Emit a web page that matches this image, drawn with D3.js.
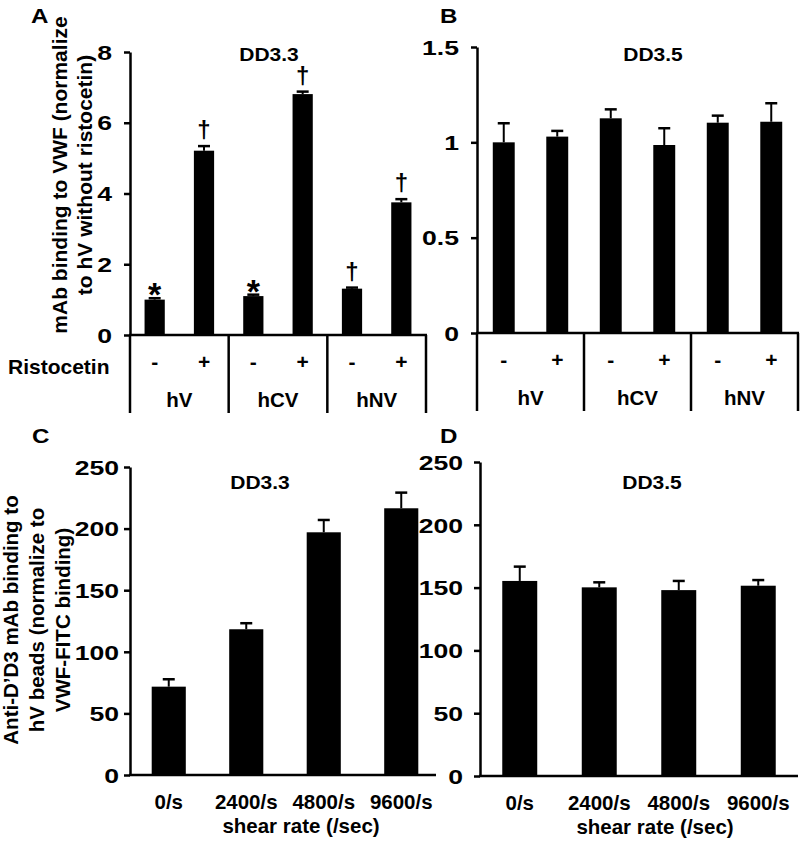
<!DOCTYPE html>
<html>
<head>
<meta charset="utf-8">
<script src="https://cdn.jsdelivr.net/npm/d3@7"></script>
<style>
	body { margin: 0; background: #fff; }
	svg text { font-family: "Liberation Sans", Arial, sans-serif; font-weight: bold; fill: #000; }
</style>
</head>
<body>
<div id="chart"></div>
<script>
// ---- data ----
var vwfGroups = ["hV", "hCV", "hNV"];
var ristocetinSigns = ["-", "+", "-", "+", "-", "+"];

var dd33RistoValues = [1.0, 5.21, 1.10, 6.81, 1.31, 3.75];
var dd33RistoErrors = [0.04, 0.13, 0.04, 0.07, 0.03, 0.09];
var dd33RistoMarks = ["*", "†", "*", "†", "†", "†"];

var dd35RistoValues = [1.0, 1.03, 1.126, 0.986, 1.103, 1.108];
var dd35RistoErrors = [0.10, 0.03, 0.047, 0.088, 0.037, 0.097];

var shearRates = ["0/s", "2400/s", "4800/s", "9600/s"];
var dd33ShearValues = [71.7, 118.3, 197, 216.5];
var dd33ShearErrors = [6, 4.9, 10, 12.7];
var dd35ShearValues = [155.3, 150.2, 148, 151.5];
var dd35ShearErrors = [11.4, 4, 7.3, 4.5];

var ticksA = [0, 2, 4, 6, 8];
var ticksB = [0, 0.5, 1, 1.5];
var ticksShear = [0, 50, 100, 150, 200, 250];

var svg = d3.select("#chart").append("svg")
	.attr("width", 800)
	.attr("height", 844);

function addText(g, x, y, str, size, anchor, sx) {
	return g.append("text")
		.attr("transform", `translate(${x},${y}) scale(${sx || 1},1)`)
		.attr("text-anchor", anchor || "middle")
		.style("font-size", size + "px")
		.text(str);
}

function drawPanel(o) {
	var n = o.values.length;
	var g = svg.append("g");

	var x = d3.scaleBand()
		.domain(d3.range(n))
		.range([o.x0, o.x1])
		.paddingInner(o.pad)
		.paddingOuter(o.pad / 2);

	var y = d3.scaleLinear()
		.domain([0, o.yMax])
		.range([o.y0, o.yTop]);

	// y axis
	var yAxis = d3.axisLeft(y)
		.tickValues(o.ticks)
		.tickSize(6)
		.tickSizeOuter(0)
		.tickFormat(d3.format(""));

	var ya = g.append("g")
		.attr("transform", `translate(${o.x0},0)`)
		.call(yAxis);
	ya.select(".domain").attr("stroke", "#000").attr("stroke-width", 2.5);
	ya.selectAll(".tick line").attr("stroke", "#000").attr("stroke-width", 2.5);
	ya.selectAll(".tick text")
		.attr("x", -o.tickGap / 1.33)
		.attr("dy", "0.36em")
		.attr("transform", "scale(1.33,1)")
		.style("font-size", "20px");

	// x axis baseline
	g.append("line")
		.attr("x1", o.x0 - 1).attr("x2", o.axisEnd)
		.attr("y1", o.y0).attr("y2", o.y0)
		.attr("stroke", "#000").attr("stroke-width", 2.5);

	// bars
	g.selectAll(".bar")
		.data(o.values)
		.enter()
		.append("rect")
		.attr("x", (d, i) => x(i))
		.attr("width", x.bandwidth())
		.attr("y", d => y(d))
		.attr("height", d => o.y0 - y(d))
		.attr("fill", "#000");

	// error bars (upper only)
	var capW = o.capW;
	o.values.forEach((v, i) => {
		var cx = x(i) + x.bandwidth() / 2;
		var top = y(v + o.errors[i]);
		g.append("line")
			.attr("x1", cx).attr("x2", cx)
			.attr("y1", y(v)).attr("y2", top)
			.attr("stroke", "#000").attr("stroke-width", 2);
		g.append("line")
			.attr("x1", cx - capW / 2).attr("x2", cx + capW / 2)
			.attr("y1", top).attr("y2", top)
			.attr("stroke", "#000").attr("stroke-width", 2.5);
		if (o.marks) {
			var m = o.marks[i];
			if (m === "*") {
				addText(g, cx, top + 8, m, 34, "middle");
			} else {
				addText(g, cx, top - 8, m, 24, "middle");
			}
		}
	});

	// title and panel letter
	addText(g, o.titleX, o.titleY, o.title, 17.5, "middle", 1.2);
	addText(g, o.letterX, o.letterY, o.letter, 21, "start", 1.15);

	// categorical x labels
	if (o.groups) {
		var xg = d3.scaleBand().domain(o.groups).range([o.x0, o.x1]);
		o.groups.forEach(gr => {
			g.append("line")
				.attr("x1", xg(gr)).attr("x2", xg(gr))
				.attr("y1", o.y0).attr("y2", o.y0 + 78)
				.attr("stroke", "#000").attr("stroke-width", 2.5);
			addText(g, xg(gr) + xg.bandwidth() / 2, o.y0 + 72, gr, 20.5, "middle");
		});
		g.append("line")
			.attr("x1", o.x1).attr("x2", o.x1)
			.attr("y1", o.y0).attr("y2", o.y0 + 78)
			.attr("stroke", "#000").attr("stroke-width", 2.5);
		o.signs.forEach((s, i) => {
			addText(g, x(i) + x.bandwidth() / 2, o.y0 + 34, s, 21, "middle");
		});
	}

	if (o.shear) {
		o.shear.forEach((s, i) => {
			addText(g, x(i) + x.bandwidth() / 2, o.y0 + 34, s, 20.5, "middle");
		});
		addText(g, (o.x0 + o.x1) / 2 + 16, o.y0 + 58, "shear rate (/sec)", 20.5, "middle");
	}

	return g;
}

// ---- A ----
drawPanel({
	values: dd33RistoValues, errors: dd33RistoErrors, marks: dd33RistoMarks,
	x0: 130, x1: 426, axisEnd: 427, y0: 335, yTop: 52, yMax: 8, ticks: ticksA, tickGap: 18,
	pad: 0.59, capW: 12, title: "DD3.3", titleX: 269, titleY: 61,
	letter: "A", letterX: 31, letterY: 23, groups: vwfGroups, signs: ristocetinSigns
});

// ---- B ----
drawPanel({
	values: dd35RistoValues, errors: dd35RistoErrors,
	x0: 477, x1: 798, axisEnd: 799, y0: 333, yTop: 47, yMax: 1.5, ticks: ticksB, tickGap: 18,
	pad: 0.59, capW: 12, title: "DD3.5", titleX: 653, titleY: 61,
	letter: "B", letterX: 440, letterY: 23, groups: vwfGroups, signs: ristocetinSigns
});

// ---- C ----
drawPanel({
	values: dd33ShearValues, errors: dd33ShearErrors,
	x0: 130, x1: 440, axisEnd: 436, y0: 775, yTop: 467, yMax: 250, ticks: ticksShear, tickGap: 11,
	pad: 0.56, capW: 12, title: "DD3.3", titleX: 260, titleY: 489,
	letter: "C", letterX: 32, letterY: 443, shear: shearRates
});

// ---- D ----
drawPanel({
	values: dd35ShearValues, errors: dd35ShearErrors,
	x0: 480, x1: 798, axisEnd: 798, y0: 776, yTop: 462, yMax: 250, ticks: ticksShear, tickGap: 17,
	pad: 0.56, capW: 12, title: "DD3.5", titleX: 652, titleY: 489,
	letter: "D", letterX: 440, letterY: 443, shear: shearRates
});

// "Ristocetin" row label
addText(svg, 8, 374, "Ristocetin", 21, "start");

// rotated y labels
var labA = svg.append("g").attr("transform", "translate(0,175) rotate(-90)");
addText(labA, 0, 67, "mAb binding to VWF (normalize", 21, "middle");
addText(labA, 0, 92, "to hV without ristocetin)", 21, "middle");

var labC = svg.append("g").attr("transform", "translate(0,620) rotate(-90)");
addText(labC, 0, 18, "Anti-D’D3 mAb binding to", 20.5, "middle");
addText(labC, 0, 44, "hV beads (normalize to", 20.5, "middle");
addText(labC, 0, 70, "VWF-FITC binding)", 20.5, "middle");
</script>
</body>
</html>
